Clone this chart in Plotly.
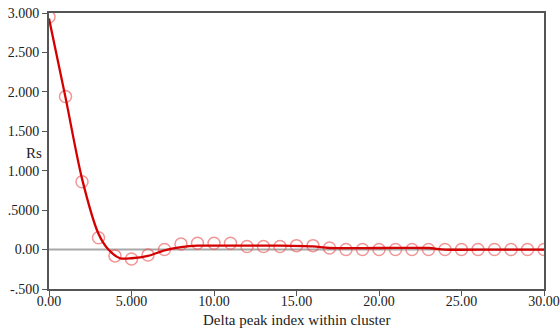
import plotly.graph_objects as go

# Observed points (open circles)
point_x = list(range(0, 31))
point_y = [2.95, 1.94, 0.86, 0.15, -0.08, -0.12, -0.07, 0.00, 0.07, 0.08,
           0.08, 0.08, 0.04, 0.04, 0.04, 0.05, 0.05, 0.02, 0.00, 0.00,
           0.00, 0.00, 0.00, 0.00, 0.00, 0.00, 0.00, 0.00, 0.00, 0.00, 0.00]

# Smoothed fit line
fit_x = [0, 1, 2, 3, 3.6, 4.3, 5, 6, 7, 8, 9, 10, 12, 14, 16, 17, 20, 23, 24, 27, 30]
fit_y = [2.93, 1.93, 0.90, 0.20, 0.00, -0.11, -0.11, -0.08, -0.01, 0.03, 0.05,
         0.05, 0.05, 0.05, 0.04, 0.02, 0.02, 0.02, 0.00, 0.00, 0.00]

y_tickvals = [3.0, 2.5, 2.0, 1.5, 1.0, 0.5, 0.0, -0.5]
y_ticktext = ["3.000", "2.500", "2.000", "1.500", "1.000", ".5000", "0.00", "-.500"]
x_tickvals = [0, 5, 10, 15, 20, 25, 30]
x_ticktext = ["0.00", "5.000", "10.00", "15.00", "20.00", "25.00", "30.00"]

font_family = "Liberation Serif"
tick_font = dict(family=font_family, size=14, color="#222")

fig = go.Figure()
fig.add_trace(go.Scatter(
    x=point_x, y=point_y, mode="markers",
    marker=dict(symbol="circle-open", size=12,
                color="rgba(232,80,80,0.6)", line=dict(width=1.5)),
    showlegend=False))
fig.add_trace(go.Scatter(
    x=fit_x, y=fit_y, mode="lines",
    line=dict(color="#d40000", width=2.3, shape="spline", smoothing=0.8),
    showlegend=False))

fig.add_shape(type="line", x0=0, x1=30, y0=0, y1=0, xref="x", yref="y",
              line=dict(color="#a8a8a8", width=2), layer="below")

fig.add_annotation(text="Rs", x=-0.01, y=1.23, xref="paper", yref="y",
                   xanchor="right", yanchor="middle", showarrow=False,
                   font=dict(family=font_family, size=15, color="#222"))
fig.add_annotation(text="Delta peak index within cluster", x=0.5, y=0,
                   xref="paper", yref="paper", yshift=-31,
                   xanchor="center", yanchor="middle", showarrow=False,
                   font=dict(family=font_family, size=15, color="#222"))

fig.update_layout(
    width=560, height=329,
    margin=dict(l=49, r=16, t=13, b=40),
    paper_bgcolor="white", plot_bgcolor="white",
    font=dict(family=font_family, size=14, color="#222"),
    xaxis=dict(range=[0, 30], tickvals=x_tickvals, ticktext=x_ticktext,
               tickfont=tick_font, automargin=False, ticklabeloverflow="allow",
               ticklabelstandoff=-7,
               showgrid=False, zeroline=False, showline=True, mirror=True,
               linecolor="#555", linewidth=2, ticks="outside", ticklen=5,
               tickcolor="#555", tickwidth=1),
    yaxis=dict(range=[-0.5, 3.0], tickvals=y_tickvals, ticktext=y_ticktext,
               tickfont=tick_font, automargin=False, ticklabeloverflow="allow",
               showgrid=False, zeroline=False, showline=True, mirror=True,
               linecolor="#555", linewidth=2, ticks="outside", ticklen=5,
               tickcolor="#555", tickwidth=1),
)

fig.write_html("out.html", config={"displayModeBar": False},
               post_script="document.body.style.margin='0';document.body.style.overflow='hidden';")
